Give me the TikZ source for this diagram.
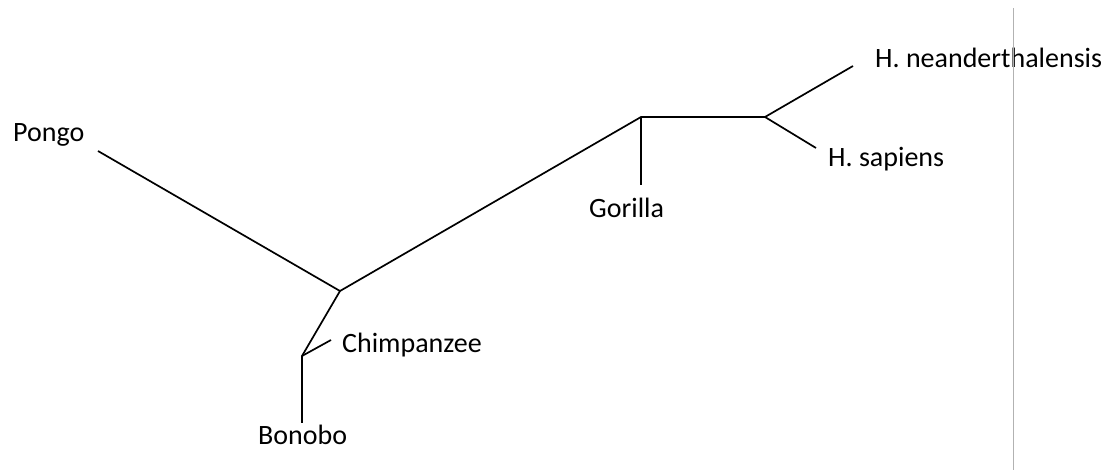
\documentclass[tikz,border=0pt]{standalone}
\usepackage{fontspec}
\setmainfont{Carlito}
\usetikzlibrary{positioning}

\begin{document}
\begin{tikzpicture}[x=1pt,y=-1pt,
  branch/.style={line width=1.7pt},
  taxon/.style={font=\fontsize{28}{32}\selectfont,inner sep=0pt,anchor=base west}]
\useasboundingbox (0,0) rectangle (1112,470);
% inner nodes of the tree
\coordinate (root) at (340,291);
\coordinate (panjoin) at (302,356);
\coordinate (gorjoin) at (641,117);
\coordinate (homojoin) at (765,117);
% leaf ends
\coordinate (pongoend) at (98,151);
\coordinate (chimpend) at (331,340);
\coordinate (bonoboend) at (302,423);
\coordinate (gorillaend) at (641,185);
\coordinate (neanderend) at (853,66);
\coordinate (sapiensend) at (816,148);
% labels
\node[taxon] (pongo) at (13,142) {Pongo};
\node[taxon] (chimp) at (342,353) {Chimpanzee};
\node[taxon] (bonobo) at (258,445) {Bonobo};
\node[taxon] (gorilla) at (589,218) {Gorilla};
\node[taxon] (neander) at (875,68) {H. neanderthalensis};
\node[taxon] (sapiens) at (828,167) {H. sapiens};
% branches
\draw[branch] (pongoend) -- (root) -- (gorjoin) -- (homojoin);
\draw[branch] (root) -- (panjoin) -- (bonoboend);
\draw[branch] (panjoin) -- (chimpend);
\draw[branch] (gorjoin) -- (gorillaend);
\draw[branch] (neanderend) -- (homojoin) -- (sapiensend);
% page edge
\coordinate (edgetop) at (1013,8);
\coordinate (edgebot) at (1013,470);
\draw[gray!60,line width=0.8pt] (edgetop) -- (edgebot);
\end{tikzpicture}
\end{document}
